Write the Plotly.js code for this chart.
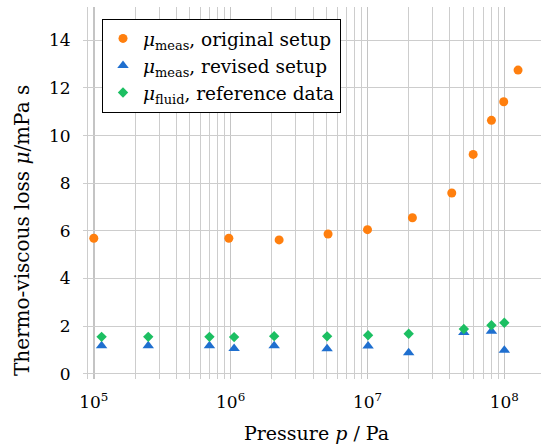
<!DOCTYPE html>
<html>
<head>
<meta charset="utf-8">
<script src="https://cdn.plot.ly/plotly-3.0.1.min.js"></script>
<style>html,body{margin:0;padding:0;background:#fff}#chart{width:541px;height:445px}</style>
</head>
<body>
<div id="chart"></div>
<script>
// Original setup (orange circles)
const origP   = [1.0e5, 9.7e5, 2.26e6, 5.15e6, 1.0e7, 2.13e7, 4.13e7, 5.92e7, 8.05e7, 9.9e7, 1.26e8];
const origMu  = [5.69, 5.69, 5.62, 5.87, 6.05, 6.55, 7.59, 9.21, 10.64, 11.42, 12.75];
// Revised setup (blue triangles) and reference data (green diamonds)
const revP    = [1.14e5, 2.5e5, 7.0e5, 1.06e6, 2.08e6, 5.07e6, 1.01e7, 2.0e7, 5.06e7, 8.05e7, 1.0e8];
const revMu   = [1.18, 1.18, 1.18, 1.06, 1.18, 1.05, 1.17, 0.88, 1.73, 1.78, 0.99];
const refP    = revP;
const refMu   = [1.55, 1.55, 1.55, 1.54, 1.58, 1.57, 1.62, 1.68, 1.88, 2.04, 2.14];
// Tick labels
const xMajor  = [1e5, 1e6, 1e7, 1e8];
const xMajorText = ['10<sup>5</sup>', '10<sup>6</sup>', '10<sup>7</sup>', '10<sup>8</sup>'];
const yTicks  = [0, 2, 4, 6, 8, 10, 12, 14];
const names   = ['<i>μ</i><sub>meas</sub>, original setup',
                 '<i>μ</i><sub>meas</sub>, revised setup',
                 '<i>μ</i><sub>fluid</sub>, reference data'];

const xMinor = [];
[4, 5, 6, 7, 8].forEach(e => { for (let d = 2; d <= 9; d++) xMinor.push(d * Math.pow(10, e)); });

const serif = 'DejaVu Serif';

const traces = [
  {x: origP, y: origMu, name: names[0], type: 'scatter', mode: 'markers',
   marker: {symbol: 'circle', size: 9, color: '#ff7f0e'}},
  {x: revP, y: revMu, name: names[1], type: 'scatter', mode: 'markers',
   marker: {symbol: 'triangle-up', size: 10, color: '#1f6fcf'}},
  {x: refP, y: refMu, name: names[2], type: 'scatter', mode: 'markers',
   marker: {symbol: 'diamond', size: 8, color: '#1cbf62'}}
];

const layout = {
  width: 541, height: 445,
  margin: {l: 83, r: 0, t: 7, b: 66},
  paper_bgcolor: '#fff', plot_bgcolor: '#fff',
  font: {family: serif, size: 18, color: '#000'},
  showlegend: true,
  legend: {x: 0.0415, y: 0.968, xanchor: 'left', yanchor: 'top',
           bgcolor: '#fff', bordercolor: '#000', borderwidth: 1,
           font: {family: serif, size: 18.5, color: '#000'}},
  xaxis: {type: 'log', range: [4.921, 8.268],
          tickmode: 'array', tickvals: xMajor, ticktext: xMajorText,
          showgrid: true, gridcolor: '#c4c4c4', gridwidth: 1.6,
          minor: {tickmode: 'array', tickvals: xMinor, showgrid: true, gridcolor: '#cdcdcd', gridwidth: 1, ticks: ''},
          zeroline: false, showline: false,
          ticks: 'outside', ticklen: 8, tickcolor: 'rgba(0,0,0,0)',
          tickfont: {family: serif, size: 17}},
  yaxis: {range: [-0.22, 15.4], tickmode: 'array', tickvals: yTicks,
          showgrid: true, gridcolor: '#cdcdcd', gridwidth: 1,
          zeroline: false, showline: false,
          ticks: 'outside', ticklen: 8, tickcolor: 'rgba(0,0,0,0)',
          tickfont: {family: serif, size: 17}},
  annotations: [
    {text: 'Thermo-viscous loss <i>μ</i>/mPa s', textangle: -90, xref: 'paper', yref: 'paper',
     x: -0.133, y: 0.398, xanchor: 'center', yanchor: 'middle', showarrow: false,
     font: {family: serif, size: 20}},
    {text: 'Pressure <i>p</i> / Pa', xref: 'paper', yref: 'paper',
     x: 0.51, y: -0.145, xanchor: 'center', yanchor: 'middle', showarrow: false,
     font: {family: serif, size: 19}}
  ]
};

Plotly.newPlot('chart', traces, layout, {displayModeBar: false, staticPlot: true});
</script>
</body>
</html>
